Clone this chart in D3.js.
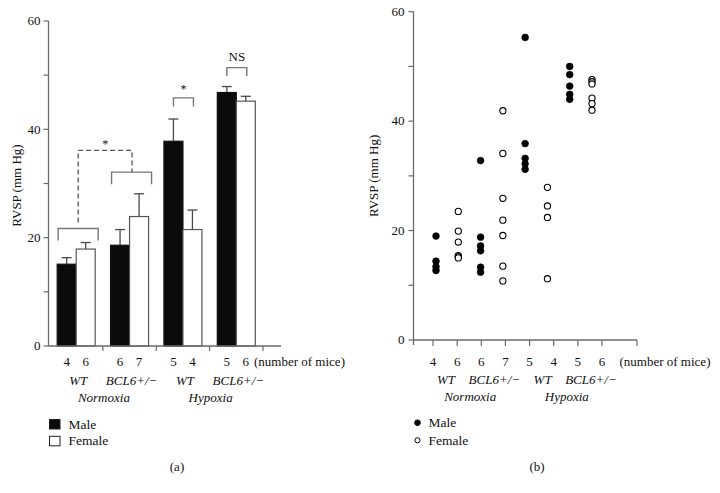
<!DOCTYPE html>
<html><head><meta charset="utf-8">
<script src="https://cdn.jsdelivr.net/npm/d3@7"></script>
<style>
body{margin:0;background:#fff;}
text{font-family:"Liberation Serif","DejaVu Serif",serif;fill:#111;}
</style></head>
<body><svg id="c" width="720" height="493"></svg>
<script>
// ---------- DATA ----------
const groups = ["WT Normoxia", "BCL6 Normoxia", "WT Hypoxia", "BCL6 Hypoxia"];
const genotypeLabels = ["WT", "BCL6+/−", "WT", "BCL6+/−"];
const conditionLabels = ["Normoxia", "Hypoxia"];
const sexes = ["Male", "Female"];
const miceCounts = [[4, 6], [6, 7], [5, 4], [5, 6]];
const maleMeans = [15.1, 18.6, 37.8, 46.8];
const maleErr = [1.2, 2.9, 4.1, 1.1];
const femaleMeans = [17.9, 23.9, 21.5, 45.2];
const femaleErr = [1.2, 4.2, 3.6, 0.9];
const yTicks = [0, 20, 40, 60];
const yMinorTicks = [10, 30, 50];
// significance annotations (level in mm Hg)
const brackets = [
  {group: 0, level: 21.7, full: true, label: ""},
  {group: 1, level: 32.1, full: true, label: ""},
  {group: 2, level: 45.8, full: false, label: "*"},
  {group: 3, level: 51.4, full: false, label: "NS"}
];
const dashedLevel = 36.1;
// scatter: individual animals
const scatterCols = [
  {group: 0, sex: "Male",   values: [19.0, 14.4, 13.4, 12.7]},
  {group: 0, sex: "Female", values: [23.5, 19.9, 17.9, 15.4, 15.2, 15.0]},
  {group: 1, sex: "Male",   values: [32.8, 18.8, 17.2, 16.3, 13.3, 12.4]},
  {group: 1, sex: "Female", values: [41.9, 34.1, 25.9, 21.9, 19.1, 13.5, 10.8]},
  {group: 2, sex: "Male",   values: [55.3, 35.9, 33.2, 32.2, 31.2]},
  {group: 2, sex: "Female", values: [27.9, 24.5, 22.4, 11.2]},
  {group: 3, sex: "Male",   values: [50.0, 48.5, 46.4, 44.9, 44.0]},
  {group: 3, sex: "Female", values: [47.6, 47.2, 46.8, 44.2, 43.2, 42.0]}
];

// ---------- DRAW ----------
const svg = d3.select("#c");
const axisColor = "#6a6a6a";
const fs = 13;

// ===== Panel (a) =====
const A = {left: 48.5, right: 281, top: 21, bottom: 346, bandStart: 49.5, bandEnd: 263};
const yA = d3.scaleLinear().domain([0, 60]).range([A.bottom, A.top]);
const xA = d3.scaleBand().domain(groups).range([A.bandStart, A.bandEnd]);
const barW = 19;
const xIn = d3.scaleBand().domain(sexes).range([xA.bandwidth() / 2 - barW, xA.bandwidth() / 2 + barW]);
const gA = svg.append("g");

// y axis
gA.append("line").attr("x1", A.left).attr("x2", A.left).attr("y1", A.top).attr("y2", A.bottom)
  .attr("stroke", axisColor).attr("stroke-width", 1.3);
gA.selectAll(".yt").data(yTicks.concat(yMinorTicks)).join("line")
  .attr("x1", A.left - 5).attr("x2", A.left).attr("y1", d => yA(d)).attr("y2", d => yA(d))
  .attr("stroke", axisColor).attr("stroke-width", 1.2);
gA.selectAll(".ytl").data(yTicks).join("text")
  .attr("x", A.left - 8).attr("y", d => yA(d)).attr("dy", "0.33em")
  .attr("text-anchor", "end").attr("font-size", fs).text(d => d);
gA.append("text").attr("transform", `translate(${17},${(A.top + A.bottom) / 2 + 2}) rotate(-90)`)
  .attr("dy", "0.33em").attr("text-anchor", "middle").attr("font-size", fs).text("RVSP (mm Hg)");

// bars
const barData = [];
groups.forEach((g, i) => {
  barData.push({g, sex: "Male", v: maleMeans[i], e: maleErr[i], n: miceCounts[i][0]});
  barData.push({g, sex: "Female", v: femaleMeans[i], e: femaleErr[i], n: miceCounts[i][1]});
});
const bx = d => xA(d.g) + xIn(d.sex);
// error bars (upwards)
gA.selectAll(".eb").data(barData).join("line")
  .attr("x1", d => bx(d) + barW / 2).attr("x2", d => bx(d) + barW / 2)
  .attr("y1", d => yA(d.v)).attr("y2", d => yA(d.v + d.e))
  .attr("stroke", "#4a4a4a").attr("stroke-width", 1.3);
gA.selectAll(".ec").data(barData).join("line")
  .attr("x1", d => bx(d) + barW / 2 - 5).attr("x2", d => bx(d) + barW / 2 + 5)
  .attr("y1", d => yA(d.v + d.e)).attr("y2", d => yA(d.v + d.e))
  .attr("stroke", "#4a4a4a").attr("stroke-width", 1.3);
gA.selectAll(".bar").data(barData).join("rect")
  .attr("x", d => bx(d)).attr("width", barW)
  .attr("y", d => yA(d.v)).attr("height", d => yA(0) - yA(d.v))
  .attr("fill", d => d.sex === "Male" ? "#0b0b0b" : "#fff")
  .attr("stroke", d => d.sex === "Male" ? "#111" : "#555").attr("stroke-width", 1.2);

// x axis
gA.append("line").attr("x1", A.left).attr("x2", A.right).attr("y1", A.bottom).attr("y2", A.bottom)
  .attr("stroke", axisColor).attr("stroke-width", 1.3);
gA.selectAll(".xt").data(groups).join("line")
  .attr("x1", d => xA(d) + xA.bandwidth()).attr("x2", d => xA(d) + xA.bandwidth())
  .attr("y1", A.bottom).attr("y2", A.bottom + 5).attr("stroke", axisColor).attr("stroke-width", 1.2);
gA.selectAll(".nl").data(barData).join("text")
  .attr("x", d => bx(d) + barW / 2).attr("y", 366).attr("text-anchor", "middle")
  .attr("font-size", fs).text(d => d.n);
gA.append("text").attr("x", xA(groups[3]) + xA.bandwidth() - 9).attr("y", 366)
  .attr("font-size", fs).text("(number of mice)");
gA.selectAll(".gl").data(groups).join("text")
  .attr("x", d => xA(d) + xA.bandwidth() / 2 + 2).attr("y", 385).attr("text-anchor", "middle")
  .attr("font-size", fs).attr("font-style", "italic").text((d, i) => genotypeLabels[i]);
gA.selectAll(".cl").data(conditionLabels).join("text")
  .attr("x", (d, i) => xA(groups[i * 2]) + xA.bandwidth() + 1).attr("y", 402).attr("text-anchor", "middle")
  .attr("font-size", fs).attr("font-style", "italic").text(d => d);

// brackets
const brColor = "#777";
brackets.forEach(b => {
  const g = groups[b.group];
  const x1 = b.full ? xA(g) + xIn("Male") + 1 : xA(g) + xIn("Male") + barW / 2;
  const x2 = b.full ? xA(g) + xIn("Female") + barW + 3 : xA(g) + xIn("Female") + barW / 2 + 1;
  const y = yA(b.level);
  const leg = b.full ? 12 : 8.5;
  gA.append("path").attr("d", `M${x1},${y + leg}V${y}H${x2}V${y + leg}`)
    .attr("fill", "none").attr("stroke", brColor).attr("stroke-width", 1.4);
  if (b.label) {
    gA.append("text").attr("x", (x1 + x2) / 2).attr("y", b.label === "*" ? y - 5 : y - 7)
      .attr("text-anchor", "middle").attr("font-size", b.label === "*" ? 12 : fs).text(b.label);
  }
});
// dashed comparison between bracket 0 and bracket 1
{
  const b0 = brackets[0], b1 = brackets[1];
  const c0 = xA(groups[0]) + xA.bandwidth() / 2 + 2;
  const c1 = xA(groups[1]) + xA.bandwidth() / 2 + 2.5;
  const yTop = yA(dashedLevel);
  gA.append("path").attr("d", `M${c0},${yA(b0.level) - 6}V${yTop}H${c1}V${yA(b1.level)}`)
    .attr("fill", "none").attr("stroke", "#555").attr("stroke-width", 1.3).attr("stroke-dasharray", "5,3");
  gA.append("text").attr("x", (c0 + c1) / 2).attr("y", yTop - 2).attr("text-anchor", "middle")
    .attr("font-size", 12).text("*");
}
// legend (a)
const legA = gA.selectAll(".lg").data(sexes).join("g")
  .attr("transform", (d, i) => `translate(49.5,${419.5 + i * 16.8})`);
legA.append("rect").attr("width", 10.5).attr("height", 9.5)
  .attr("fill", d => d === "Male" ? "#0b0b0b" : "#fff").attr("stroke", "#222").attr("stroke-width", 1);
legA.append("text").attr("x", 19).attr("y", 9).attr("font-size", 13.5).text(d => d);
gA.append("text").attr("x", 177).attr("y", 471).attr("text-anchor", "middle").attr("font-size", fs).text("(a)");

// ===== Panel (b) =====
const B = {left: 413.5, right: 637, top: 11.7, bottom: 340};
const yB = d3.scaleLinear().domain([0, 60]).range([B.bottom, B.top]);
const xPts = d3.scaleLinear().domain([0, 7]).range([436, 592]);
const xTk = d3.scaleLinear().domain([0, 7]).range([433, 602]);
const gB = svg.append("g");
gB.append("line").attr("x1", B.left).attr("x2", B.left).attr("y1", B.top).attr("y2", B.bottom + 5)
  .attr("stroke", axisColor).attr("stroke-width", 1.3);
gB.selectAll(".yt").data(yTicks.concat(yMinorTicks)).join("line")
  .attr("x1", B.left - 5).attr("x2", B.left).attr("y1", d => yB(d)).attr("y2", d => yB(d))
  .attr("stroke", axisColor).attr("stroke-width", 1.2);
gB.selectAll(".ytl").data(yTicks).join("text")
  .attr("x", B.left - 9).attr("y", d => yB(d)).attr("dy", "0.33em")
  .attr("text-anchor", "end").attr("font-size", fs).text(d => d);
gB.append("text").attr("transform", `translate(${373.5},${(B.top + B.bottom) / 2}) rotate(-90)`)
  .attr("dy", "0.33em").attr("text-anchor", "middle").attr("font-size", fs).text("RVSP (mm Hg)");
gB.append("line").attr("x1", B.left).attr("x2", B.right).attr("y1", B.bottom).attr("y2", B.bottom)
  .attr("stroke", axisColor).attr("stroke-width", 1.3);
const colIdx = d3.range(scatterCols.length);
gB.selectAll(".xt").data(colIdx.concat([null])).join("line")
  .attr("x1", d => d === null ? B.right : xTk(d)).attr("x2", d => d === null ? B.right : xTk(d))
  .attr("y1", B.bottom).attr("y2", B.bottom + 6).attr("stroke", axisColor).attr("stroke-width", 1.2);
gB.selectAll(".nl").data(scatterCols).join("text")
  .attr("x", (d, i) => xTk(i)).attr("y", 366).attr("text-anchor", "middle")
  .attr("font-size", fs).text(d => miceCounts[d.group][sexes.indexOf(d.sex)]);
gB.append("text").attr("x", 619.5).attr("y", 366).attr("font-size", fs).text("(number of mice)");
gB.selectAll(".gl").data(groups).join("text")
  .attr("x", (d, i) => (xTk(2 * i) + xTk(2 * i + 1)) / 2 + 1).attr("y", 383.5).attr("text-anchor", "middle")
  .attr("font-size", fs).attr("font-style", "italic").text((d, i) => genotypeLabels[i]);
gB.selectAll(".cl").data(conditionLabels).join("text")
  .attr("x", (d, i) => (xTk(4 * i) + xTk(4 * i + 3)) / 2 + 1).attr("y", 401).attr("text-anchor", "middle")
  .attr("font-size", fs).attr("font-style", "italic").text(d => d);

const pts = [];
scatterCols.forEach((c, i) => c.values.forEach(v => pts.push({i, sex: c.sex, v})));
gB.selectAll(".pt").data(pts).join("circle")
  .attr("cx", d => xPts(d.i)).attr("cy", d => yB(d.v)).attr("r", d => d.sex === "Male" ? 3.4 : 3.1)
  .attr("fill", d => d.sex === "Male" ? "#000" : "#fff")
  .attr("stroke", "#000").attr("stroke-width", d => d.sex === "Male" ? 0.6 : 1.1);

const legB = gB.selectAll(".lg").data(sexes).join("g")
  .attr("transform", (d, i) => `translate(417.5,${422.7 + i * 17.6})`);
legB.append("circle").attr("r", d => d === "Male" ? 2.8 : 2.6)
  .attr("fill", d => d === "Male" ? "#000" : "#fff").attr("stroke", "#000").attr("stroke-width", 1);
legB.append("text").attr("x", 11).attr("y", 4.5).attr("font-size", 13.5).text(d => d);
gB.append("text").attr("x", 537).attr("y", 471).attr("text-anchor", "middle").attr("font-size", fs).text("(b)");
</script></body></html>
